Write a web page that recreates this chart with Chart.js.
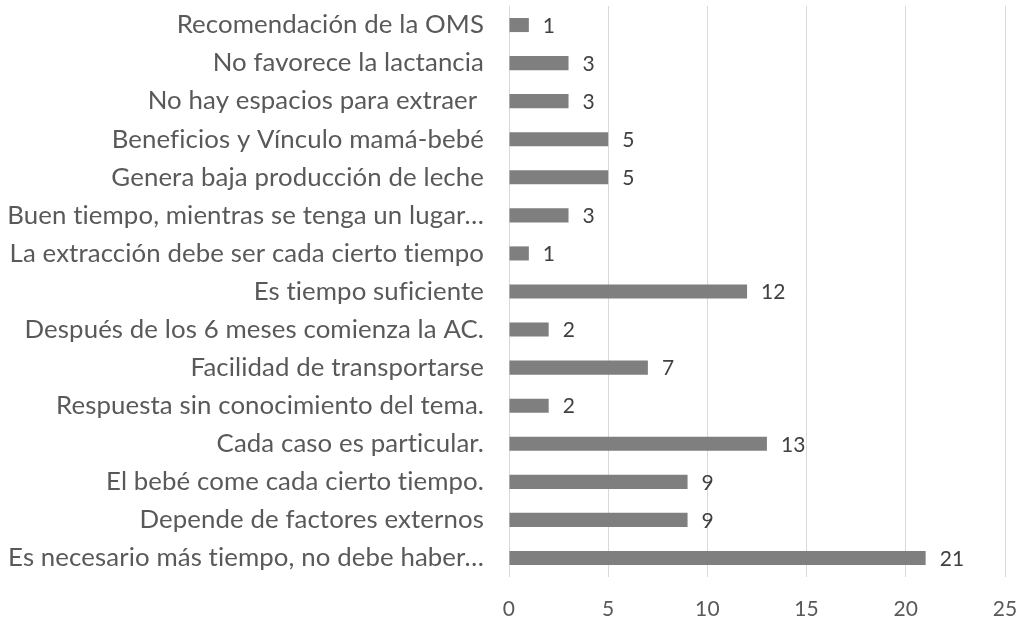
<!DOCTYPE html>
<html>
<head>
<meta charset="utf-8">
<script src="https://cdn.jsdelivr.net/npm/chart.js@4/dist/chart.umd.min.js"></script>
<style>
  html, body { margin: 0; padding: 0; background: #fff; }
  #wrap { width: 1018px; height: 620px; }
</style>
</head>
<body>
<div id="wrap"><canvas id="chart" width="1018" height="620"></canvas></div>
<script>
// data, top to bottom as in the picture
const categories = [
  "Recomendación de la OMS",
  "No favorece la lactancia",
  "No hay espacios para extraer ",
  "Beneficios y Vínculo mamá-bebé",
  "Genera baja producción de leche",
  "Buen tiempo, mientras se tenga un lugar…",
  "La extracción debe ser cada cierto tiempo",
  "Es tiempo suficiente",
  "Después de los 6 meses comienza la AC.",
  "Facilidad de transportarse",
  "Respuesta sin conocimiento del tema.",
  "Cada caso es particular.",
  "El bebé come cada cierto tiempo.",
  "Depende de factores externos",
  "Es necesario más tiempo, no debe haber…"
];
const counts = [1, 3, 3, 5, 5, 3, 1, 12, 2, 7, 2, 13, 9, 9, 21];
const xTicks = [0, 5, 10, 15, 20, 25];

const FONT = "Lato, 'Open Sans', sans-serif";
const GRAY_BAR = "#7f7f7f";
const GRID = "#d9d9d9";
const TEXT = "#595959";

// size the category font so the longest label spans like the reference
function fitLabelSize() {
  const c = document.createElement("canvas").getContext("2d");
  c.font = "20px Lato";
  c.letterSpacing = "0.1px";
  const w = c.measureText("La extracción debe ser cada cierto tiempo").width;
  return Math.round(20 * 476 / w * 10) / 10;
}
const labelSize = fitLabelSize();

/* ---- no "ti" ligatures, like the original ---- */
const noLigatures = {
  id: "noLigatures",
  beforeInit(chart) { chart.ctx.letterSpacing = "0.1px"; },
  beforeDraw(chart) { chart.ctx.letterSpacing = "0.1px"; }
};

/* ---- value labels next to each bar ---- */
const valueLabels = {
  id: "valueLabels",
  afterDatasetsDraw(chart) {
    const ctx = chart.ctx;
    const meta = chart.getDatasetMeta(0);
    ctx.save();
    ctx.font = "21px " + FONT;
    ctx.fillStyle = "#404040";
    ctx.textAlign = "left";
    ctx.textBaseline = "middle";
    meta.data.forEach((bar, i) => {
      ctx.fillText(String(counts[i]), bar.x + 14, bar.y + 1);
    });
    ctx.restore();
  }
};

new Chart(document.getElementById("chart"), {
  type: "bar",
  data: {
    labels: categories,
    datasets: [{
      data: counts,
      backgroundColor: GRAY_BAR,
      borderWidth: 0,
      barPercentage: 0.37,
      categoryPercentage: 1
    }]
  },
  options: {
    indexAxis: "y",
    responsive: false,
    animation: false,
    layout: { padding: { top: 6, right: 13, left: 0, bottom: 0 } },
    plugins: {
      legend: { display: false },
      tooltip: { enabled: false }
    },
    scales: {
      x: {
        min: 0,
        max: 25,
        afterBuildTicks: scale => {
          scale.ticks = xTicks.map(v => ({ value: v }));
        },
        afterFit: scale => {
          scale.height = 43;
          scale.paddingLeft = 0;
          scale.paddingRight = 0;
        },
        grid: { color: GRID, lineWidth: 1, drawTicks: false },
        border: { display: false },
        ticks: {
          color: TEXT,
          font: { family: FONT, size: 21 },
          padding: 20,
          maxRotation: 0
        }
      },
      y: {
        afterFit: scale => {
          scale.width = 509;
          scale.paddingTop = 0;
          scale.paddingBottom = 0;
        },
        grid: { display: false, drawTicks: false },
        border: { display: false },
        ticks: {
          color: TEXT,
          font: { family: FONT, size: labelSize },
          padding: 25,
          autoSkip: false
        }
      }
    }
  },
  plugins: [noLigatures, valueLabels]
});
</script>
</body>
</html>
